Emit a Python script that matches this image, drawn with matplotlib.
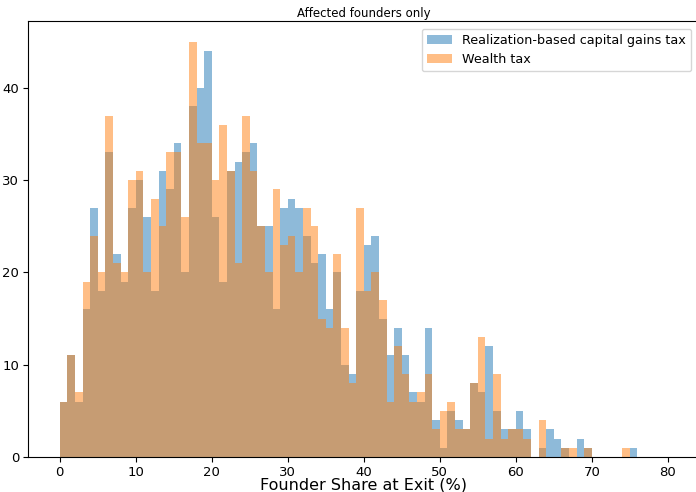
import numpy as np
import matplotlib
matplotlib.use("Agg")
import matplotlib.pyplot as plt

# Founder share at exit, 1-percentage-point bins starting at 0%
bin_edges = np.arange(0, 77)

# Counts of affected founders per bin
realization_counts = [
    6, 11, 6, 16, 27, 18, 33, 22, 19, 27,
    30, 26, 18, 31, 29, 34, 20, 38, 40, 44,
    26, 19, 31, 32, 33, 34, 25, 25, 16, 27,
    28, 27, 24, 21, 22, 16, 20, 10, 9, 18,
    23, 24, 15, 11, 14, 11, 7, 6, 14, 4,
    1, 5, 4, 3, 8, 7, 12, 5, 3, 3,
    5, 3, 0, 1, 3, 2, 1, 0, 2, 1,
    0, 0, 0, 0, 0, 1,
]
wealth_counts = [
    6, 11, 7, 19, 24, 20, 37, 21, 20, 30,
    31, 20, 28, 25, 33, 33, 26, 45, 34, 34,
    30, 36, 31, 21, 37, 31, 25, 20, 29, 23,
    24, 20, 27, 25, 15, 14, 22, 14, 8, 27,
    18, 20, 17, 6, 12, 9, 6, 7, 9, 3,
    5, 6, 3, 3, 8, 13, 2, 9, 2, 3,
    3, 2, 0, 4, 0, 0, 1, 1, 0, 1,
    0, 0, 0, 0, 1, 0,
]

series_labels = ["Realization-based capital gains tax", "Wealth tax"]

fig = plt.figure(figsize=(6.96, 4.92), dpi=100)
W, H = 696, 492
left_px, right_px, top_px, bottom_px = 28.3, 699.0, 21.0, 457.0
ax = fig.add_axes([left_px / W, 1 - bottom_px / H,
                   (right_px - left_px) / W, (bottom_px - top_px) / H])

centers = bin_edges[:-1] + 0.5
ax.hist(centers, bins=bin_edges, weights=realization_counts,
        alpha=0.5, color="tab:blue", label=series_labels[0])
ax.hist(centers, bins=bin_edges, weights=wealth_counts,
        alpha=0.5, color="tab:orange", label=series_labels[1])

ax.set_xlim(-4.14, 84.1)
ax.set_ylim(0, 47.25)
ax.set_xticks(np.arange(0, 81, 10))
ax.set_yticks(np.arange(0, 41, 10))
ax.tick_params(labelsize=9.5, pad=3)

ax.set_title("Affected founders only", fontsize=8.5, pad=3)
ax.set_xlabel("Founder Share at Exit (%)", fontsize=11.5, labelpad=-1)
ax.legend(loc="upper right", fontsize=9.2, borderaxespad=0.6)

fig.savefig("out.png", dpi=100)
